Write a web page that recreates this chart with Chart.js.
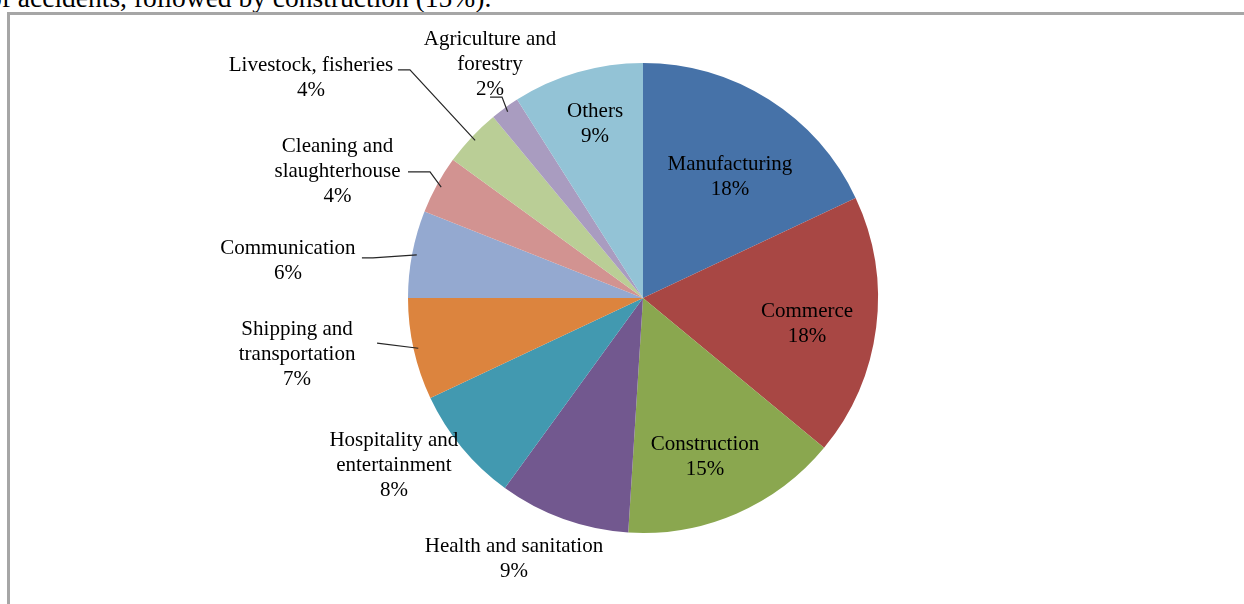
<!DOCTYPE html>
<html>
<head>
<meta charset="utf-8">
<script src="https://cdn.jsdelivr.net/npm/chart.js@4/dist/chart.umd.min.js"></script>
<style>
html, body { margin: 0; padding: 0; background: #fff; overflow: hidden; }
#wrap { position: relative; width: 1244px; height: 604px; }
#lead { position: absolute; left: -12px; top: -16px; font: 27.5px "Liberation Serif", "Times New Roman", serif; line-height: 28px; color: #000; white-space: nowrap; }
#frame { position: absolute; left: 7px; top: 12px; width: 1300px; height: 700px; border-top: 3px solid #a6a6a6; border-left: 3px solid #a6a6a6; }
#grafico { position: absolute; left: 0; top: 0; }
</style>
</head>
<body>
<div id="wrap">
<div id="lead">of accidents, followed by construction (15%).</div>
<div id="frame"></div>
<canvas id="grafico" width="1244" height="604"></canvas>
</div>
<script>
// sectors, clockwise from 12 o'clock
let sectores = [
["Manufacturing"],
["Commerce"],
["Construction"],
["Health and sanitation"],
["Hospitality and", "entertainment"],
["Shipping and", "transportation"],
["Communication"],
["Cleaning and", "slaughterhouse"],
["Livestock, fisheries"],
["Agriculture and", "forestry"],
["Others"]
];

let porcentajes = [18, 18, 15, 9, 8, 7, 6, 4, 4, 2, 9];

let colores = [
"#4672a8", "#a84744", "#8aa74f", "#72588f", "#4299b0",
"#dc843e", "#94a9d0", "#d29391", "#bace96", "#a99cc0", "#93c3d6"
];

// label centre relative to the pie centre, in units of the radius
let posEtiqueta = [
[0.37, -0.523], [0.698, 0.102], [0.264, 0.668], [-0.549, 1.102],
[-1.06, 0.706], [-1.472, 0.23], [-1.511, -0.164], [-1.3, -0.545],
[-1.413, -0.943], [-0.651, -1.004], [-0.204, -0.747]
];

// leader line: start offset from label centre (px) and horizontal run
let lineas = [
null, null, null, null, null,
[80, -9, 0], [74, -1.5, 11], [70.5, 2, 22],
[87, -6.5, 12], [0, 35, 12], null
];

let altoLinea = 25;

const etiquetas = {
id: "etiquetas",
afterDatasetsDraw(chart){

let ctx = chart.ctx;
let arcos = chart.getDatasetMeta(0).data;

ctx.save();
ctx.font = '21px "Liberation Serif", "Times New Roman", serif';
ctx.fillStyle = "#000";
ctx.textAlign = "center";
ctx.textBaseline = "middle";

arcos.forEach((arco, i) => {

let p = arco.getProps(["x", "y", "outerRadius", "startAngle", "endAngle"], true);
let r = p.outerRadius;

let texto = sectores[i].concat([porcentajes[i] + "%"]);
let cx = p.x + posEtiqueta[i][0] * r;
let cy = p.y + posEtiqueta[i][1] * r;
let y0 = cy - (texto.length - 1) * altoLinea / 2 + 2;

texto.forEach((t, k) => ctx.fillText(t, cx, y0 + k * altoLinea));

let l = lineas[i];
if(l){
let medio = (p.startAngle + p.endAngle) / 2;
let ex = p.x + Math.cos(medio) * r * 0.98;
let ey = p.y + Math.sin(medio) * r * 0.98;
let sx = cx + l[0];
let sy = cy + l[1];
ctx.beginPath();
ctx.strokeStyle = "#262626";
ctx.lineWidth = 1.2;
ctx.moveTo(sx, sy);
ctx.lineTo(sx + l[2], sy);
ctx.lineTo(ex, ey);
ctx.stroke();
}

});

ctx.restore();

}
};

let ctx = document.getElementById("grafico").getContext("2d");

window.miGrafico = new Chart(ctx, {

type: "pie",

data: {
labels: sectores,
datasets: [{
data: porcentajes,
backgroundColor: colores,
borderWidth: 0
}]
},

options: {
responsive: false,
animation: false,
layout: {
padding: { left: 408, right: 366, top: 63, bottom: 71 }
},
plugins: {
legend: { display: false },
tooltip: { enabled: false }
}
},

plugins: [etiquetas]

});
</script>
</body>
</html>
